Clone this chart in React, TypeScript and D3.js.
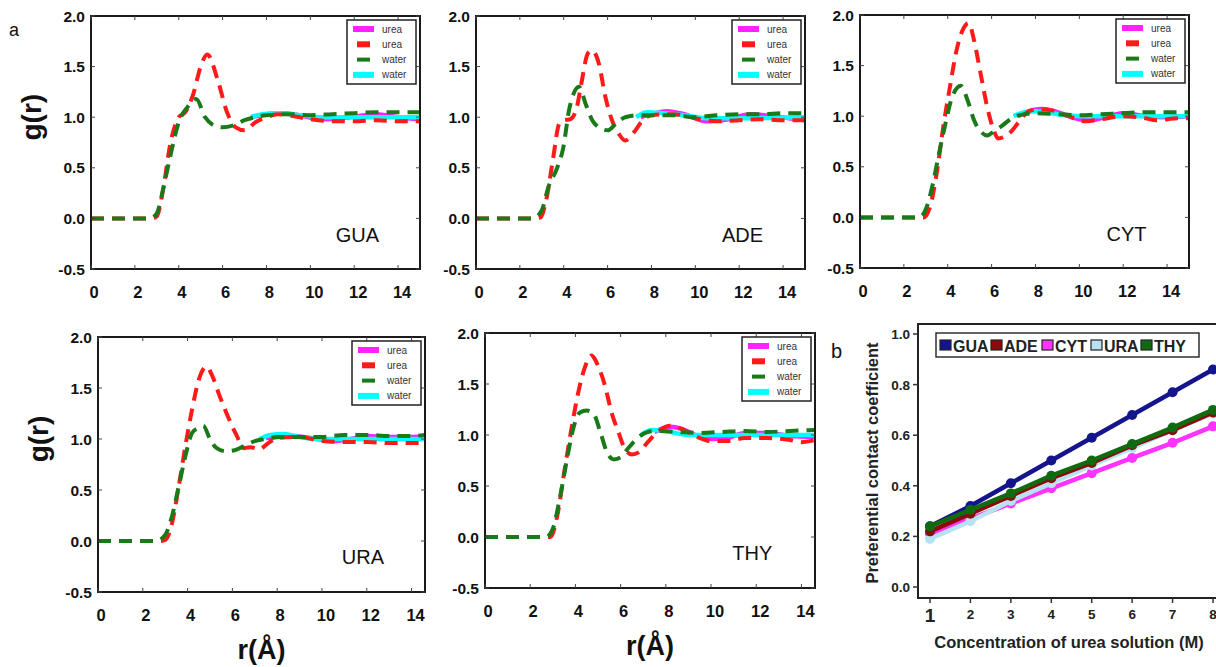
import React from "react";
import * as d3 from "d3";

type Pt = [number, number];

// ---- g(r) data, [r, g] pairs ----
const guaUreaSolid: Pt[] = [[7.3, 1.0], [8, 1.03], [8.7, 1.04], [9.5, 1.02], [10.5, 0.98], [11.5, 0.99], [12.5, 1.02], [13, 1.03], [14, 1.0], [15, 0.98]];
const guaUreaDash: Pt[] = [[0, 0], [2.8, 0], [3.0, 0.02], [3.3, 0.3], [3.6, 0.72], [4.0, 1.0], [4.3, 1.05], [4.65, 1.22], [5.0, 1.5], [5.3, 1.62], [5.8, 1.35], [6.2, 1.05], [6.6, 0.9], [7.0, 0.87], [7.5, 0.95], [8, 1.0], [8.5, 1.03], [9, 1.02], [10, 0.98], [11, 0.96], [12, 0.96], [13, 0.97], [14, 0.96], [15, 0.96]];
const guaWaterDash: Pt[] = [[0, 0], [2.7, 0], [3.0, 0.05], [3.3, 0.3], [3.6, 0.6], [4.0, 0.95], [4.4, 1.1], [4.8, 1.18], [5.2, 1.0], [5.6, 0.92], [6.0, 0.9], [6.5, 0.92], [7, 0.97], [7.5, 1.0], [8, 1.02], [9, 1.03], [10, 1.02], [11, 1.03], [12, 1.04], [13, 1.05], [14, 1.05], [15, 1.05]];
const guaWaterSolid: Pt[] = [[7.3, 1.0], [7.8, 1.03], [8.5, 1.04], [9.5, 1.02], [10.5, 1.0], [12, 1.0], [13, 1.0], [15, 1.0]];

const adeUreaSolid: Pt[] = [[7.5, 1.0], [8, 1.03], [8.7, 1.06], [9.5, 1.03], [10.5, 0.96], [11.5, 0.98], [12.5, 1.03], [13.5, 1.01], [15, 0.97]];
const adeUreaDash: Pt[] = [[0, 0], [2.8, 0], [2.95, 0.01], [3.2, 0.18], [3.5, 0.57], [3.8, 0.94], [4.0, 0.97], [4.3, 0.98], [4.6, 1.1], [4.8, 1.33], [5.1, 1.63], [5.3, 1.66], [5.6, 1.53], [5.9, 1.2], [6.2, 0.97], [6.5, 0.84], [6.8, 0.77], [7.2, 0.85], [7.6, 0.97], [8, 1.02], [9, 1.03], [10, 0.99], [11, 0.96], [12, 0.97], [13, 0.98], [14, 0.97], [15, 0.97]];
const adeWaterDash: Pt[] = [[0, 0], [2.6, 0], [3.0, 0.08], [3.3, 0.31], [3.7, 0.5], [3.97, 0.69], [4.27, 1.1], [4.7, 1.3], [5.0, 1.13], [5.3, 0.97], [5.6, 0.9], [6.0, 0.87], [6.4, 0.94], [6.8, 1.0], [7.5, 1.02], [8, 1.02], [9, 1.02], [10, 1.0], [11, 1.02], [12, 1.03], [13, 1.03], [14, 1.04], [15, 1.04]];
const adeWaterSolid: Pt[] = [[7.3, 1.0], [7.8, 1.05], [8.5, 1.04], [9.5, 1.02], [10.5, 0.99], [12, 0.99], [15, 1.0]];

const cytUreaSolid: Pt[] = [[7.2, 1.0], [7.6, 1.04], [8.3, 1.07], [9, 1.04], [10, 0.97], [10.5, 0.96], [11.5, 1.01], [12, 1.03], [13, 1.0], [14, 0.99], [15, 1.0]];
const cytUreaDash: Pt[] = [[0, 0], [2.9, 0], [3.2, 0.11], [3.5, 0.44], [3.8, 0.9], [4.1, 1.29], [4.4, 1.65], [4.7, 1.86], [4.95, 1.92], [5.2, 1.75], [5.5, 1.42], [5.8, 1.09], [6.1, 0.86], [6.3, 0.78], [6.6, 0.8], [6.9, 0.85], [7.3, 0.96], [7.7, 1.05], [8.2, 1.07], [8.7, 1.06], [9.5, 1.0], [10.3, 0.95], [11, 0.97], [12, 1.0], [13, 0.98], [13.5, 0.96], [14.5, 0.98], [15, 0.98]];
const cytWaterDash: Pt[] = [[0, 0], [2.7, 0], [3.0, 0.08], [3.3, 0.31], [3.6, 0.63], [3.9, 0.93], [4.2, 1.19], [4.6, 1.3], [4.9, 1.16], [5.2, 0.96], [5.5, 0.85], [5.8, 0.81], [6.1, 0.85], [6.5, 0.91], [7, 0.99], [7.5, 1.02], [8, 1.03], [9, 1.02], [10, 1.01], [11, 1.02], [12, 1.03], [13, 1.04], [14, 1.04], [15, 1.04]];
const cytWaterSolid: Pt[] = [[7.0, 1.0], [7.5, 1.04], [8, 1.05], [9, 1.02], [10, 1.0], [12, 1.0], [15, 1.0]];

const uraUreaSolid: Pt[] = [[7.5, 1.01], [8, 1.02], [8.7, 1.03], [9.5, 1.01], [10.5, 0.98], [11.5, 1.01], [12, 1.03], [13, 1.02], [14, 1.02], [14.6, 1.03]];
const uraUreaDash: Pt[] = [[0, 0], [2.8, 0], [3.0, 0.01], [3.3, 0.17], [3.6, 0.53], [3.9, 0.93], [4.2, 1.29], [4.5, 1.58], [4.85, 1.71], [5.1, 1.62], [5.4, 1.44], [5.8, 1.22], [6.2, 1.03], [6.5, 0.91], [6.8, 0.92], [7.2, 0.9], [7.6, 0.96], [8, 1.01], [9, 1.02], [10, 0.98], [11, 0.97], [12, 0.97], [13, 0.96], [14, 0.96], [14.6, 0.96]];
const uraWaterDash: Pt[] = [[0, 0], [2.6, 0], [3.0, 0.06], [3.3, 0.24], [3.6, 0.53], [3.9, 0.83], [4.2, 1.06], [4.5, 1.11], [4.7, 1.13], [5.0, 1.0], [5.3, 0.91], [5.7, 0.88], [6.1, 0.89], [6.5, 0.93], [7, 0.98], [7.5, 1.0], [8, 1.02], [9, 1.02], [10, 1.02], [11, 1.04], [12, 1.04], [13, 1.03], [14, 1.03], [14.6, 1.04]];
const uraWaterSolid: Pt[] = [[7.2, 1.0], [7.7, 1.04], [8.3, 1.05], [9, 1.02], [10, 1.0], [12, 1.0], [14.6, 1.0]];

const thyUreaSolid: Pt[] = [[7.5, 1.03], [8.2, 1.08], [8.7, 1.06], [9.3, 1.0], [10, 0.96], [10.7, 0.97], [11.5, 1.02], [12.5, 1.02], [13.5, 0.99], [14.6, 0.98]];
const thyUreaDash: Pt[] = [[0, 0], [2.9, 0], [3.2, 0.21], [3.5, 0.63], [3.8, 1.03], [4.1, 1.39], [4.4, 1.65], [4.7, 1.78], [5.0, 1.68], [5.3, 1.49], [5.6, 1.22], [5.9, 1.03], [6.2, 0.86], [6.5, 0.81], [6.8, 0.83], [7.2, 0.93], [7.7, 1.04], [8.2, 1.09], [8.7, 1.06], [9.3, 0.99], [10, 0.94], [10.7, 0.94], [11.5, 0.97], [12.5, 0.97], [13.5, 0.95], [14, 0.93], [14.6, 0.95]];
const thyWaterDash: Pt[] = [[0, 0], [2.7, 0], [3.0, 0.08], [3.3, 0.37], [3.6, 0.73], [3.9, 1.06], [4.2, 1.22], [4.5, 1.24], [4.8, 1.21], [5.1, 1.03], [5.4, 0.83], [5.7, 0.76], [6.0, 0.78], [6.3, 0.86], [6.7, 0.96], [7.2, 1.03], [7.7, 1.04], [8.5, 1.03], [9.5, 1.02], [10.5, 1.03], [11.5, 1.04], [12.5, 1.03], [13.5, 1.04], [14.6, 1.05]];
const thyWaterSolid: Pt[] = [[6.9, 1.0], [7.4, 1.05], [8, 1.04], [9, 1.0], [10, 1.0], [12, 1.0], [14.6, 1.0]];

const rTicks = [0, 2, 4, 6, 8, 10, 12, 14];
const gTicks = [-0.5, 0, 0.5, 1.0, 1.5, 2.0];
const legendLabels = ["urea", "urea", "water", "water"];

// ---- panel b data ----
const conc = [1, 2, 3, 4, 5, 6, 7, 8];
const pccGUA = [0.24, 0.32, 0.41, 0.5, 0.59, 0.68, 0.77, 0.86];
const pccADE = [0.22, 0.29, 0.36, 0.43, 0.49, 0.56, 0.62, 0.69];
const pccCYT = [0.21, 0.27, 0.33, 0.39, 0.45, 0.51, 0.57, 0.635];
const pccURA = [0.19, 0.26, 0.34, 0.41, 0.48, 0.55, 0.62, 0.685];
const pccTHY = [0.24, 0.305, 0.37, 0.44, 0.5, 0.565, 0.63, 0.7];
const pccTicks = [0, 0.2, 0.4, 0.6, 0.8, 1.0];

const FONT = "'Liberation Sans', Arial, sans-serif";
const lineStyles = [
  { color: "#ff22ff", dash: null, width: 4.5 },
  { color: "#00ffff", dash: null, width: 4.5 },
  { color: "#ff1a1a", dash: "13,8", width: 4 },
  { color: "#1a7a1a", dash: "13,8", width: 4 },
];

type Box = { l: number; r: number; t: number; b: number };

function RdfPanel(props: {
  id: string; name: string; box: Box; xMax: number; series: Pt[][];
  yTitle?: boolean; xTitle?: boolean;
}) {
  const { id, name, box, xMax, series } = props;
  const x = d3.scaleLinear().domain([0, xMax]).range([box.l, box.r]);
  const y = d3.scaleLinear().domain([-0.5, 2]).range([box.b, box.t]);
  const line = d3.line<Pt>().x(d => x(d[0])).y(d => y(d[1])).curve(d3.curveMonotoneX);
  // draw order: magenta, cyan, red dash, green dash
  const order = [0, 3, 1, 2];
  const styleFor = [lineStyles[0], lineStyles[2], lineStyles[3], lineStyles[1]];
  const lx = box.r - 73, ly = box.t + 4;
  return (
    <g>
      <defs>
        <clipPath id={"clip-" + id}>
          <rect x={box.l} y={box.t} width={box.r - box.l} height={box.b - box.t} />
        </clipPath>
      </defs>
      <g clipPath={`url(#clip-${id})`}>
        {order.map(i => {
          const st = styleFor[i];
          return (
            <path key={i} d={line(series[i]) || ""} fill="none" stroke={st.color}
              strokeWidth={st.width} strokeDasharray={st.dash || undefined} />
          );
        })}
      </g>
      <rect x={box.l} y={box.t} width={box.r - box.l} height={box.b - box.t}
        fill="none" stroke="#1a1a1a" strokeWidth={2} />
      {rTicks.map(t => (
        <g key={"xt" + t}>
          <line x1={x(t)} x2={x(t)} y1={box.b} y2={box.b - 4} stroke="#444" />
          <line x1={x(t)} x2={x(t)} y1={box.t} y2={box.t + 4} stroke="#444" />
          <text x={x(t) + (t >= 10 ? 4 : 3)} y={box.b + 29} textAnchor="middle" fontFamily={FONT}
            fontWeight="bold" fontSize={16.5} fill="#111">{t}</text>
        </g>
      ))}
      {gTicks.map(t => (
        <g key={"yt" + t}>
          <line x1={box.l} x2={box.l + 4} y1={y(t)} y2={y(t)} stroke="#444" />
          <line x1={box.r} x2={box.r - 4} y1={y(t)} y2={y(t)} stroke="#444" />
          <text x={box.l - 6} y={y(t) + 5.5} textAnchor="end" fontFamily={FONT}
            fontWeight="bold" fontSize={15.5} fill="#111">{t.toFixed(1)}</text>
        </g>
      ))}
      <text x={x(xMax * 0.81)} y={y(-0.15) + 8} textAnchor="middle" fontFamily={FONT}
        fontSize={20} fill="#111">{name}</text>
      <rect x={lx} y={ly} width={69} height={64} fill="white" stroke="#222" strokeWidth={1.5} />
      {legendLabels.map((lab, i) => {
        const cy = ly + 9 + i * 15.3;
        const st = lineStyles[[0, 2, 3, 1][i]];
        const w = st.dash ? 13 : 21;
        const h = i === 2 ? 4 : 6;
        return (
          <g key={"lg" + i}>
            <rect x={lx + 6 + (st.dash ? 4 : 0)} y={cy - h / 2} width={w} height={h} fill={st.color} />
            <text x={lx + 35} y={cy + 3.5} fontFamily={FONT} fontSize={10} fill="#333">{lab}</text>
          </g>
        );
      })}
      {props.yTitle && (
        <text transform={`translate(${box.l - 50},${y(1.0)}) rotate(-90)`} textAnchor="middle"
          fontFamily={FONT} fontWeight="bold" fontSize={28} fill="#111">g(r)</text>
      )}
      {props.xTitle && (
        <text x={(box.l + box.r) / 2} y={box.b + 67} textAnchor="middle"
          fontFamily={FONT} fontWeight="bold" fontSize={27} fill="#111">r(Å)</text>
      )}
    </g>
  );
}

function PccPanel() {
  const box: Box = { l: 918, r: 1222, t: 324, b: 598 };
  const x = d3.scaleLinear().domain([1, 8]).range([930, 1213]);
  const y = d3.scaleLinear().domain([0, 1]).range([587, 334]);
  const series = [
    { name: "GUA", vals: pccGUA, color: "#14148c" },
    { name: "ADE", vals: pccADE, color: "#8b0a0a" },
    { name: "CYT", vals: pccCYT, color: "#ff33ff" },
    { name: "URA", vals: pccURA, color: "#b5e3f2" },
    { name: "THY", vals: pccTHY, color: "#106b10" },
  ];
  const drawOrder = [0, 2, 3, 1, 4];
  const line = d3.line<number>().x((_, i) => x(conc[i])).y(d => y(d));
  const legX = [940, 991, 1042, 1091, 1141];
  return (
    <g>
      <rect x={box.l} y={box.t} width={box.r - box.l} height={box.b - box.t} fill="none" stroke="#222" strokeWidth={2} />
      {drawOrder.map(i => {
        const s = series[i];
        return (
          <g key={s.name}>
            <path d={line(s.vals) || ""} fill="none" stroke={s.color} strokeWidth={4.5} />
            {s.vals.map((v, j) => (
              <circle key={j} cx={x(conc[j])} cy={y(v)} r={5} fill={s.color} />
            ))}
          </g>
        );
      })}
      {pccTicks.map(t => (
        <g key={"py" + t}>
          <line x1={box.l - 5} x2={box.l} y1={y(t)} y2={y(t)} stroke="#333" strokeWidth={1.5} />
          <text x={box.l - 8} y={y(t) + 5} textAnchor="end" fontFamily={FONT} fontWeight="bold"
            fontSize={13.5} fill="#222">{t.toFixed(1)}</text>
        </g>
      ))}
      {conc.map(c => (
        <g key={"px" + c}>
          <line x1={x(c)} x2={x(c)} y1={box.b} y2={box.b + 5} stroke="#333" strokeWidth={1.5} />
          <text x={x(c)} y={c === 1 ? 622 : 619} textAnchor="middle" fontFamily={FONT} fontWeight="bold"
            fontSize={c === 1 ? 19 : 13.5} fill="#222">{c}</text>
        </g>
      ))}
      <rect x={936} y={333} width={263} height={24} fill="white" stroke="#222" strokeWidth={1.4} />
      {series.map((s, i) => (
        <g key={"pl" + s.name}>
          <rect x={legX[i]} y={340} width={11} height={10} fill={s.color} stroke="#222" strokeWidth={1.2} />
          <text x={legX[i] + 13} y={351.5} fontFamily={FONT} fontWeight="bold" fontSize={16} fill="#222">{s.name}</text>
        </g>
      ))}
      <text x={1069} y={648} textAnchor="middle" fontFamily={FONT} fontWeight="bold" fontSize={16.5} fill="#222">
        Concentration of urea solution (M)
      </text>
      <text transform="translate(878,463) rotate(-90)" textAnchor="middle" fontFamily={FONT} fontWeight="bold"
        fontSize={16.5} fill="#222">Preferential contact coefficient</text>
      <text x={831} y={358} fontFamily={FONT} fontSize={20} fill="#111">b</text>
    </g>
  );
}

export default function App() {
  return (
    <svg width={1216} height={667} style={{ position: "absolute", left: 0, top: 0, background: "white" }}>
      <text x={9} y={36} fontFamily={FONT} fontSize={18} fill="#111">a</text>
      <RdfPanel id="gua" name="GUA" box={{ l: 91, r: 420, t: 16, b: 269 }} xMax={15}
        series={[guaUreaSolid, guaUreaDash, guaWaterDash, guaWaterSolid]} yTitle />
      <RdfPanel id="ade" name="ADE" box={{ l: 476, r: 805, t: 16, b: 269 }} xMax={15}
        series={[adeUreaSolid, adeUreaDash, adeWaterDash, adeWaterSolid]} />
      <RdfPanel id="cyt" name="CYT" box={{ l: 860, r: 1189, t: 15, b: 268 }} xMax={15}
        series={[cytUreaSolid, cytUreaDash, cytWaterDash, cytWaterSolid]} />
      <RdfPanel id="ura" name="URA" box={{ l: 98, r: 425, t: 337, b: 592 }} xMax={14.6}
        series={[uraUreaSolid, uraUreaDash, uraWaterDash, uraWaterSolid]} yTitle xTitle />
      <RdfPanel id="thy" name="THY" box={{ l: 485, r: 815, t: 333, b: 588 }} xMax={14.6}
        series={[thyUreaSolid, thyUreaDash, thyWaterDash, thyWaterSolid]} xTitle />
      <PccPanel />
    </svg>
  );
}
